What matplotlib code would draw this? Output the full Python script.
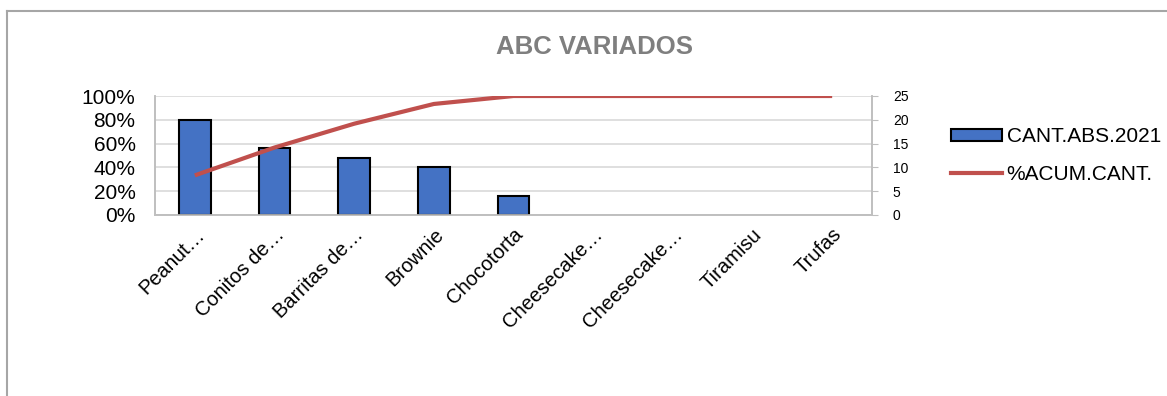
import numpy as np
import matplotlib.pyplot as plt
from matplotlib.lines import Line2D
from matplotlib.ticker import PercentFormatter

plt.rcParams['font.family'] = ['Liberation Sans', 'DejaVu Sans']

# productos y cantidades del ABC
productos = ['Peanut…', 'Conitos de…', 'Barritas de…', 'Brownie', 'Chocotorta',
             'Cheesecake…', 'Cheesecake…', 'Tiramisu', 'Trufas']
cant_abs = [20, 14, 12, 10, 4, 0, 0, 0, 0]
acum_pct = [0.333, 0.567, 0.767, 0.933, 1.0, 1.0, 1.0, 1.0, 1.0]

color_barra = '#4472C4'
color_linea = '#C0504D'
gris = '#D9D9D9'

fig = plt.figure(figsize=(11.67, 3.96), dpi=100)
ax = fig.add_axes([155 / 1167, 1 - 215 / 396, (872 - 155) / 1167, (215 - 96) / 396])
ax2 = ax.twinx()

x = np.arange(len(productos))

# barras en el eje derecho (cantidades); sin borde las que valen cero
bordes = ['black' if v > 0 else 'none' for v in cant_abs]
ax2.bar(x, cant_abs, width=0.4, color=color_barra, edgecolor=bordes, linewidth=1.5, zorder=3)
ax2.set_ylim(0, 25)
ax2.set_yticks(np.arange(0, 26, 5))
ax2.tick_params(axis='y', labelsize=10, length=4, color='#BFBFBF', pad=11)
ax2.grid(axis='y', color=gris, linewidth=1.2)
ax2.set_axisbelow(True)

# linea de porcentaje acumulado en el eje izquierdo
ax.plot(x, acum_pct, color=color_linea, linewidth=3, solid_capstyle='butt', zorder=4)
ax.set_ylim(0, 1)
ax.set_yticks(np.arange(0, 1.01, 0.2))
ax.yaxis.set_major_formatter(PercentFormatter(1.0, decimals=0))
ax.tick_params(axis='y', labelsize=15, length=0, pad=14)
ax.set_xlim(-0.5, len(productos) - 0.5)
ax.set_xticks(x)
ax.set_xticklabels(productos, rotation=45, ha='right', rotation_mode='anchor', fontsize=14.5)
ax.tick_params(axis='x', length=0, pad=7)

# la linea por encima de las barras
ax.set_zorder(ax2.get_zorder() + 1)
ax.patch.set_visible(False)

for a in (ax, ax2):
    a.spines['top'].set_visible(False)
    for lado in ('left', 'right', 'bottom'):
        a.spines[lado].set_color('#BFBFBF')
        a.spines[lado].set_linewidth(1.2)

fig.text(594 / 1167, 1 - 47 / 396, 'ABC VARIADOS', ha='center', va='center',
         fontsize=18.5, fontweight='bold', color='#7F7F7F')

# leyenda a la derecha
handles = [plt.Rectangle((0, 0), 1, 1, facecolor=color_barra, edgecolor='black', linewidth=1.5),
           Line2D([0], [0], color=color_linea, linewidth=3)]
fig.legend(handles, ['CANT.ABS.2021', '%ACUM.CANT.'], loc='upper left',
           bbox_to_anchor=(951 / 1167, 1 - 127 / 396), frameon=False, fontsize=15,
           handlelength=2.45, handleheight=0.5, handletextpad=0.22, labelspacing=0.9,
           borderaxespad=0, borderpad=0)

# marco del grafico
fig.add_artist(Line2D([7 / 1167, 1], [1 - 11 / 396, 1 - 11 / 396], color='#A6A6A6', linewidth=1.5))
fig.add_artist(Line2D([7 / 1167, 7 / 1167], [0, 1 - 11 / 396], color='#A6A6A6', linewidth=1.5))

fig.savefig('out.png', dpi=100)
